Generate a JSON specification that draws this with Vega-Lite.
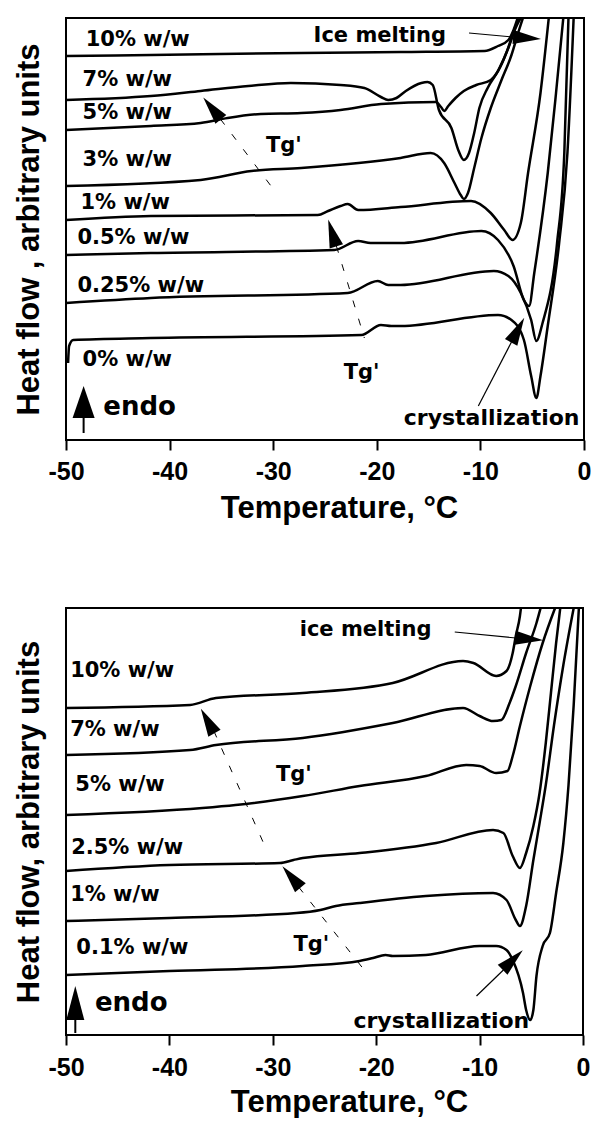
{
  "$schema": "https://vega.github.io/schema/vega-lite/v6.json",
  "background": "white",
  "padding": {"left": 12, "top": 15, "right": 8, "bottom": 0},
  "spacing": 81,
  "config": {
    "view": {"stroke": "black", "strokeWidth": 2},
    "axis": {"grid": false, "domainColor": "black", "tickColor": "black", "labelColor": "black", "titleColor": "black"},
    "text": {"font": "DejaVu Sans", "fontWeight": "bold", "fontSize": 21, "color": "black", "align": "left", "baseline": "middle"}
  },
  "datasets": {
    "topCurves": [
      {"s": "10%", "t": -50, "y": 384}, {"s": "10%", "t": -41.8, "y": 385}, {"s": "10%", "t": -27.3, "y": 387}, {"s": "10%", "t": -17.7, "y": 388}, {"s": "10%", "t": -9.6, "y": 389}, {"s": "10%", "t": -8.3, "y": 394}, {"s": "10%", "t": -7.3, "y": 400}, {"s": "10%", "t": -6.8, "y": 410}, {"s": "10%", "t": -6.4, "y": 422},
      {"s": "7%", "t": -50, "y": 340}, {"s": "7%", "t": -41.8, "y": 344}, {"s": "7%", "t": -37, "y": 349}, {"s": "7%", "t": -32.4, "y": 354}, {"s": "7%", "t": -28.3, "y": 357}, {"s": "7%", "t": -23.5, "y": 355}, {"s": "7%", "t": -21.2, "y": 352}, {"s": "7%", "t": -19.6, "y": 343}, {"s": "7%", "t": -18.9, "y": 340}, {"s": "7%", "t": -18.1, "y": 342}, {"s": "7%", "t": -17.2, "y": 349}, {"s": "7%", "t": -15.7, "y": 357}, {"s": "7%", "t": -15.1, "y": 358}, {"s": "7%", "t": -14.6, "y": 355}, {"s": "7%", "t": -14.0, "y": 330}, {"s": "7%", "t": -12.8, "y": 312}, {"s": "7%", "t": -12.1, "y": 289}, {"s": "7%", "t": -11.6, "y": 280}, {"s": "7%", "t": -11.1, "y": 287}, {"s": "7%", "t": -10.6, "y": 307}, {"s": "7%", "t": -10.1, "y": 332}, {"s": "7%", "t": -9.3, "y": 352}, {"s": "7%", "t": -8.3, "y": 369}, {"s": "7%", "t": -7.3, "y": 392}, {"s": "7%", "t": -6.6, "y": 412}, {"s": "7%", "t": -6.1, "y": 422},
      {"s": "5%", "t": -50, "y": 310}, {"s": "5%", "t": -41.8, "y": 314}, {"s": "5%", "t": -37, "y": 317}, {"s": "5%", "t": -34.4, "y": 322}, {"s": "5%", "t": -31.2, "y": 326}, {"s": "5%", "t": -27.3, "y": 327}, {"s": "5%", "t": -23.5, "y": 330}, {"s": "5%", "t": -19.6, "y": 336}, {"s": "5%", "t": -14.3, "y": 338}, {"s": "5%", "t": -13.8, "y": 333}, {"s": "5%", "t": -13.5, "y": 329}, {"s": "5%", "t": -13.1, "y": 334}, {"s": "5%", "t": -12.4, "y": 342}, {"s": "5%", "t": -11.6, "y": 349}, {"s": "5%", "t": -10.4, "y": 355}, {"s": "5%", "t": -9.0, "y": 360}, {"s": "5%", "t": -8.3, "y": 369}, {"s": "5%", "t": -7.5, "y": 387}, {"s": "5%", "t": -6.9, "y": 405}, {"s": "5%", "t": -6.3, "y": 422},
      {"s": "3%", "t": -50, "y": 254}, {"s": "3%", "t": -37, "y": 260}, {"s": "3%", "t": -32.1, "y": 269}, {"s": "3%", "t": -27.3, "y": 272}, {"s": "3%", "t": -17.7, "y": 282}, {"s": "3%", "t": -14.8, "y": 287}, {"s": "3%", "t": -13.5, "y": 277}, {"s": "3%", "t": -12.5, "y": 257}, {"s": "3%", "t": -11.9, "y": 245}, {"s": "3%", "t": -11.6, "y": 241}, {"s": "3%", "t": -11.2, "y": 247}, {"s": "3%", "t": -10.6, "y": 272}, {"s": "3%", "t": -9.9, "y": 302}, {"s": "3%", "t": -9.0, "y": 332}, {"s": "3%", "t": -8.0, "y": 359}, {"s": "3%", "t": -7.0, "y": 385}, {"s": "3%", "t": -6.3, "y": 409}, {"s": "3%", "t": -5.9, "y": 422},
      {"s": "1%", "t": -50, "y": 220}, {"s": "1%", "t": -41.8, "y": 224}, {"s": "1%", "t": -25.7, "y": 225}, {"s": "1%", "t": -24.7, "y": 229}, {"s": "1%", "t": -23.5, "y": 234}, {"s": "1%", "t": -22.8, "y": 236}, {"s": "1%", "t": -21.8, "y": 230}, {"s": "1%", "t": -17.7, "y": 233}, {"s": "1%", "t": -10.9, "y": 239}, {"s": "1%", "t": -9.0, "y": 227}, {"s": "1%", "t": -7.7, "y": 210}, {"s": "1%", "t": -6.9, "y": 200}, {"s": "1%", "t": -6.1, "y": 217}, {"s": "1%", "t": -5.4, "y": 267}, {"s": "1%", "t": -4.2, "y": 347}, {"s": "1%", "t": -3.4, "y": 422},
      {"s": "0.5%", "t": -50, "y": 185}, {"s": "0.5%", "t": -41.8, "y": 187}, {"s": "0.5%", "t": -24.1, "y": 190}, {"s": "0.5%", "t": -21.8, "y": 199}, {"s": "0.5%", "t": -20.6, "y": 197}, {"s": "0.5%", "t": -17.7, "y": 197}, {"s": "0.5%", "t": -9.9, "y": 209}, {"s": "0.5%", "t": -8.3, "y": 200}, {"s": "0.5%", "t": -6.8, "y": 174}, {"s": "0.5%", "t": -5.8, "y": 140}, {"s": "0.5%", "t": -5.3, "y": 134}, {"s": "0.5%", "t": -4.8, "y": 167}, {"s": "0.5%", "t": -3.5, "y": 267}, {"s": "0.5%", "t": -2.7, "y": 347}, {"s": "0.5%", "t": -2.0, "y": 422},
      {"s": "0.25%", "t": -50, "y": 137}, {"s": "0.25%", "t": -41.8, "y": 142}, {"s": "0.25%", "t": -22.8, "y": 147}, {"s": "0.25%", "t": -19.9, "y": 159}, {"s": "0.25%", "t": -18.9, "y": 155}, {"s": "0.25%", "t": -17.7, "y": 155}, {"s": "0.25%", "t": -8.7, "y": 169}, {"s": "0.25%", "t": -7.3, "y": 164}, {"s": "0.25%", "t": -6.1, "y": 147}, {"s": "0.25%", "t": -5.1, "y": 120}, {"s": "0.25%", "t": -4.6, "y": 99}, {"s": "0.25%", "t": -4.0, "y": 117}, {"s": "0.25%", "t": -2.6, "y": 197}, {"s": "0.25%", "t": -1.9, "y": 287}, {"s": "0.25%", "t": -1.5, "y": 422},
      {"s": "0%", "t": -49.8, "y": 77}, {"s": "0%", "t": -49.7, "y": 94}, {"s": "0%", "t": -49.3, "y": 100}, {"s": "0%", "t": -41.8, "y": 102}, {"s": "0%", "t": -21.5, "y": 105}, {"s": "0%", "t": -19.6, "y": 115}, {"s": "0%", "t": -18.6, "y": 114}, {"s": "0%", "t": -17.7, "y": 114}, {"s": "0%", "t": -8.3, "y": 125}, {"s": "0%", "t": -7.0, "y": 120}, {"s": "0%", "t": -5.8, "y": 100}, {"s": "0%", "t": -5.1, "y": 64}, {"s": "0%", "t": -4.6, "y": 42}, {"s": "0%", "t": -4.2, "y": 64}, {"s": "0%", "t": -3.5, "y": 114}, {"s": "0%", "t": -2.4, "y": 197}, {"s": "0%", "t": -1.6, "y": 287}, {"s": "0%", "t": -1.0, "y": 422}
    ],
    "botCurves": [
      {"s": "10%", "t": -50, "y": 327}, {"s": "10%", "t": -38, "y": 330}, {"s": "10%", "t": -35.5, "y": 337}, {"s": "10%", "t": -27.1, "y": 342}, {"s": "10%", "t": -18.4, "y": 352}, {"s": "10%", "t": -11.6, "y": 374}, {"s": "10%", "t": -10.6, "y": 372}, {"s": "10%", "t": -8.4, "y": 359}, {"s": "10%", "t": -7.4, "y": 364}, {"s": "10%", "t": -6.8, "y": 382}, {"s": "10%", "t": -6.5, "y": 399}, {"s": "10%", "t": -6.1, "y": 419}, {"s": "10%", "t": -6.0, "y": 427},
      {"s": "7%", "t": -50, "y": 280}, {"s": "7%", "t": -38, "y": 285}, {"s": "7%", "t": -35.5, "y": 290}, {"s": "7%", "t": -27.1, "y": 297}, {"s": "7%", "t": -18.4, "y": 312}, {"s": "7%", "t": -11.6, "y": 327}, {"s": "7%", "t": -10.0, "y": 319}, {"s": "7%", "t": -8.7, "y": 314}, {"s": "7%", "t": -7.9, "y": 315}, {"s": "7%", "t": -7.1, "y": 332}, {"s": "7%", "t": -6.5, "y": 349}, {"s": "7%", "t": -5.5, "y": 382}, {"s": "7%", "t": -4.5, "y": 412}, {"s": "7%", "t": -4.1, "y": 427},
      {"s": "5%", "t": -50, "y": 220}, {"s": "5%", "t": -36.8, "y": 227}, {"s": "5%", "t": -33.6, "y": 230}, {"s": "5%", "t": -27.1, "y": 239}, {"s": "5%", "t": -21.6, "y": 249}, {"s": "5%", "t": -15.2, "y": 259}, {"s": "5%", "t": -11.3, "y": 270}, {"s": "5%", "t": -10.0, "y": 269}, {"s": "5%", "t": -8.4, "y": 262}, {"s": "5%", "t": -7.3, "y": 264}, {"s": "5%", "t": -6.8, "y": 279}, {"s": "5%", "t": -6.1, "y": 309}, {"s": "5%", "t": -5.1, "y": 349}, {"s": "5%", "t": -3.9, "y": 392}, {"s": "5%", "t": -2.7, "y": 427},
      {"s": "2.5%", "t": -50, "y": 164}, {"s": "2.5%", "t": -40, "y": 170}, {"s": "2.5%", "t": -29.3, "y": 172}, {"s": "2.5%", "t": -28.0, "y": 175}, {"s": "2.5%", "t": -27.1, "y": 177}, {"s": "2.5%", "t": -21.6, "y": 182}, {"s": "2.5%", "t": -14.2, "y": 192}, {"s": "2.5%", "t": -8.7, "y": 205}, {"s": "2.5%", "t": -7.7, "y": 202}, {"s": "2.5%", "t": -6.8, "y": 179}, {"s": "2.5%", "t": -6.1, "y": 167}, {"s": "2.5%", "t": -5.5, "y": 182}, {"s": "2.5%", "t": -4.8, "y": 209}, {"s": "2.5%", "t": -4.2, "y": 242}, {"s": "2.5%", "t": -3.6, "y": 292}, {"s": "2.5%", "t": -3.1, "y": 342}, {"s": "2.5%", "t": -2.6, "y": 392}, {"s": "2.5%", "t": -2.2, "y": 427},
      {"s": "1%", "t": -50, "y": 114}, {"s": "1%", "t": -40, "y": 117}, {"s": "1%", "t": -27.7, "y": 122}, {"s": "1%", "t": -25.4, "y": 125}, {"s": "1%", "t": -23.9, "y": 129}, {"s": "1%", "t": -21.6, "y": 132}, {"s": "1%", "t": -15.2, "y": 139}, {"s": "1%", "t": -8.7, "y": 142}, {"s": "1%", "t": -7.4, "y": 135}, {"s": "1%", "t": -6.5, "y": 115}, {"s": "1%", "t": -6.1, "y": 109}, {"s": "1%", "t": -5.5, "y": 129}, {"s": "1%", "t": -4.8, "y": 175}, {"s": "1%", "t": -4.2, "y": 212}, {"s": "1%", "t": -3.6, "y": 250}, {"s": "1%", "t": -2.8, "y": 310}, {"s": "1%", "t": -1.9, "y": 370}, {"s": "1%", "t": -0.9, "y": 427},
      {"s": "0.1%", "t": -50, "y": 60}, {"s": "0.1%", "t": -40, "y": 64}, {"s": "0.1%", "t": -27.1, "y": 69}, {"s": "0.1%", "t": -21.6, "y": 74}, {"s": "0.1%", "t": -20.3, "y": 77}, {"s": "0.1%", "t": -19.1, "y": 80}, {"s": "0.1%", "t": -18.4, "y": 79}, {"s": "0.1%", "t": -15.2, "y": 80}, {"s": "0.1%", "t": -10.0, "y": 89}, {"s": "0.1%", "t": -8.4, "y": 89}, {"s": "0.1%", "t": -7.4, "y": 85}, {"s": "0.1%", "t": -6.8, "y": 75}, {"s": "0.1%", "t": -5.8, "y": 42}, {"s": "0.1%", "t": -5.5, "y": 25}, {"s": "0.1%", "t": -5.1, "y": 15}, {"s": "0.1%", "t": -4.8, "y": 25}, {"s": "0.1%", "t": -4.5, "y": 59}, {"s": "0.1%", "t": -3.9, "y": 89}, {"s": "0.1%", "t": -3.2, "y": 102}, {"s": "0.1%", "t": -2.6, "y": 142}, {"s": "0.1%", "t": -1.9, "y": 192}, {"s": "0.1%", "t": -1.4, "y": 250}, {"s": "0.1%", "t": -0.9, "y": 330}, {"s": "0.1%", "t": -0.4, "y": 427}
    ]
  },
  "vconcat": [
    {
      "width": 518,
      "height": 422,
      "encoding": {
        "x": {"field": "t", "type": "quantitative", "scale": {"domain": [-50, 0], "nice": false, "zero": false},
          "axis": {"values": [-50, -40, -30, -20, -10, 0], "labelExpr": "datum.value + ''", "tickSize": 10, "tickWidth": 2, "domain": false, "labelFont": "Liberation Sans", "labelFontSize": 25, "labelFontWeight": "bold", "labelPadding": 9, "labelFlush": false, "titleFont": "Liberation Sans", "titleFontSize": 31, "titleFontWeight": "bold", "titlePadding": 9, "titleX": 273},
          "title": "Temperature, °C"},
        "y": {"field": "y", "type": "quantitative", "scale": {"domain": [0, 422], "nice": false, "zero": false},
          "axis": {"labels": false, "ticks": false, "domain": false, "titleFont": "Liberation Sans", "titleFontSize": 31, "titleFontWeight": "bold", "titlePadding": 21},
          "title": "Heat flow , arbitrary units"}
      },
      "layer": [
        {"data": {"name": "topCurves"}, "mark": {"type": "line", "color": "black", "strokeWidth": 2.5, "strokeJoin": "round", "interpolate": "monotone"}, "encoding": {"detail": {"field": "s"}}},
        {"data": {"values": [
          {"label": "10% w/w", "t": -48.1, "y": 400}, {"label": "7% w/w", "t": -48.4, "y": 360}, {"label": "5% w/w", "t": -48.4, "y": 327}, {"label": "3% w/w", "t": -48.4, "y": 280}, {"label": "1% w/w", "t": -48.6, "y": 237}, {"label": "0.5% w/w", "t": -48.9, "y": 202}, {"label": "0.25% w/w", "t": -48.9, "y": 154}, {"label": "0% w/w", "t": -48.4, "y": 80}, {"label": "Tg'", "t": -30.7, "y": 294}, {"label": "Tg'", "t": -23.2, "y": 67}, {"label": "Ice melting", "t": -26.1, "y": 404}]},
          "mark": {"type": "text"}, "encoding": {"text": {"field": "label"}}},
        {"data": {"values": [{"label": "endo", "t": -46.4, "y": 33}]}, "mark": {"type": "text", "fontSize": 26}, "encoding": {"text": {"field": "label"}}},
        {"data": {"values": [{"label": "crystallization", "t": -17.4, "y": 22}]}, "mark": {"type": "text", "fontSize": 22}, "encoding": {"text": {"field": "label"}}},
        {"data": {"values": [{"t": -11.1, "y": 407, "t2": -6.9, "y2": 403}, {"t": -10.2, "y": 34, "t2": -7.0, "y2": 98}]}, "mark": {"type": "rule", "color": "black", "strokeWidth": 1.2}, "encoding": {"x2": {"field": "t2"}, "y2": {"field": "y2"}}},
        {"data": {"values": [{"t": -35.1, "y": 321, "t2": -29.7, "y2": 247}, {"t": -23.9, "y": 194, "t2": -21.2, "y2": 102}]}, "mark": {"type": "rule", "color": "black", "strokeWidth": 1, "strokeDash": [7, 12]}, "encoding": {"x2": {"field": "t2"}, "y2": {"field": "y2"}}},
        {"data": {"values": [{"t": -48.3, "y": 22, "t2": -48.3, "y2": 7}]}, "mark": {"type": "rule", "color": "black", "strokeWidth": 2}, "encoding": {"x2": {"field": "t2"}, "y2": {"field": "y2"}}},
        {"data": {"values": [{"t": -5.5, "y": 402}]}, "mark": {"type": "point", "shape": "M0,-1L0.5,1L-0.5,1Z", "filled": true, "color": "black", "opacity": 1, "size": 784, "angle": 94}, "encoding": {}},
        {"data": {"values": [{"t": -6.4, "y": 110}]}, "mark": {"type": "point", "shape": "M0,-1L0.5,1L-0.5,1Z", "filled": true, "color": "black", "opacity": 1, "size": 784, "angle": 28}, "encoding": {}},
        {"data": {"values": [{"t": -35.9, "y": 331.5}]}, "mark": {"type": "point", "shape": "M0,-1L0.5,1L-0.5,1Z", "filled": true, "color": "black", "opacity": 1, "size": 784, "angle": 321}, "encoding": {}},
        {"data": {"values": [{"t": -24.3, "y": 207}]}, "mark": {"type": "point", "shape": "M0,-1L0.5,1L-0.5,1Z", "filled": true, "color": "black", "opacity": 1, "size": 784, "angle": 343}, "encoding": {}},
        {"data": {"values": [{"t": -48.3, "y": 38}]}, "mark": {"type": "point", "shape": "M0,-1L0.69,1L-0.69,1Z", "filled": true, "color": "black", "opacity": 1, "size": 1024, "angle": 0}, "encoding": {}}
      ]
    },
    {
      "width": 517,
      "height": 427,
      "encoding": {
        "x": {"field": "t", "type": "quantitative", "scale": {"domain": [-50, 0], "nice": false, "zero": false},
          "axis": {"values": [-50, -40, -30, -20, -10, 0], "labelExpr": "datum.value + ''", "tickSize": 10, "tickWidth": 2, "domain": false, "labelFont": "Liberation Sans", "labelFontSize": 25, "labelFontWeight": "bold", "labelPadding": 10, "labelFlush": false, "titleFont": "Liberation Sans", "titleFontSize": 31, "titleFontWeight": "bold", "titlePadding": 7, "titleX": 283},
          "title": "Temperature, °C"},
        "y": {"field": "y", "type": "quantitative", "scale": {"domain": [0, 427], "nice": false, "zero": false},
          "axis": {"labels": false, "ticks": false, "domain": false, "titleFont": "Liberation Sans", "titleFontSize": 31, "titleFontWeight": "bold", "titlePadding": 21},
          "title": "Heat flow, arbitrary units"}
      },
      "layer": [
        {"data": {"name": "botCurves"}, "mark": {"type": "line", "color": "black", "strokeWidth": 2.5, "strokeJoin": "round", "interpolate": "monotone"}, "encoding": {"detail": {"field": "s"}}},
        {"data": {"values": [
          {"label": "10% w/w", "t": -49.6, "y": 364}, {"label": "7% w/w", "t": -49.6, "y": 305}, {"label": "5% w/w", "t": -49.1, "y": 250}, {"label": "2.5% w/w", "t": -49.5, "y": 187}, {"label": "1% w/w", "t": -49.6, "y": 140}, {"label": "0.1% w/w", "t": -49.0, "y": 87}, {"label": "Tg'", "t": -29.7, "y": 260}, {"label": "Tg'", "t": -28.0, "y": 90}, {"label": "ice melting", "t": -27.4, "y": 405}]},
          "mark": {"type": "text"}, "encoding": {"text": {"field": "label"}}},
        {"data": {"values": [{"label": "endo", "t": -47.2, "y": 32}]}, "mark": {"type": "text", "fontSize": 26}, "encoding": {"text": {"field": "label"}}},
        {"data": {"values": [{"label": "crystallization", "t": -22.2, "y": 14}]}, "mark": {"type": "text", "fontSize": 22}, "encoding": {"text": {"field": "label"}}},
        {"data": {"values": [{"t": -12.4, "y": 403, "t2": -6.5, "y2": 397}, {"t": -10.3, "y": 39, "t2": -7.7, "y2": 65}]}, "mark": {"type": "rule", "color": "black", "strokeWidth": 1.2}, "encoding": {"x2": {"field": "t2"}, "y2": {"field": "y2"}}},
        {"data": {"values": [{"t": -35.7, "y": 304, "t2": -30.9, "y2": 192}, {"t": -27.5, "y": 148, "t2": -20.7, "y2": 59}]}, "mark": {"type": "rule", "color": "black", "strokeWidth": 1, "strokeDash": [7, 12]}, "encoding": {"x2": {"field": "t2"}, "y2": {"field": "y2"}}},
        {"data": {"values": [{"t": -49.1, "y": 15, "t2": -49.1, "y2": 2}]}, "mark": {"type": "rule", "color": "black", "strokeWidth": 2}, "encoding": {"x2": {"field": "t2"}, "y2": {"field": "y2"}}},
        {"data": {"values": [{"t": -5.2, "y": 396}]}, "mark": {"type": "point", "shape": "M0,-1L0.5,1L-0.5,1Z", "filled": true, "color": "black", "opacity": 1, "size": 784, "angle": 95}, "encoding": {}},
        {"data": {"values": [{"t": -6.8, "y": 75}]}, "mark": {"type": "point", "shape": "M0,-1L0.5,1L-0.5,1Z", "filled": true, "color": "black", "opacity": 1, "size": 784, "angle": 46}, "encoding": {}},
        {"data": {"values": [{"t": -36.3, "y": 314}]}, "mark": {"type": "point", "shape": "M0,-1L0.5,1L-0.5,1Z", "filled": true, "color": "black", "opacity": 1, "size": 784, "angle": 331}, "encoding": {}},
        {"data": {"values": [{"t": -28.2, "y": 158}]}, "mark": {"type": "point", "shape": "M0,-1L0.5,1L-0.5,1Z", "filled": true, "color": "black", "opacity": 1, "size": 784, "angle": 320}, "encoding": {}},
        {"data": {"values": [{"t": -49.1, "y": 32}]}, "mark": {"type": "point", "shape": "M0,-1L0.53,1L-0.53,1Z", "filled": true, "color": "black", "opacity": 1, "size": 1156, "angle": 0}, "encoding": {}}
      ]
    }
  ]
}
